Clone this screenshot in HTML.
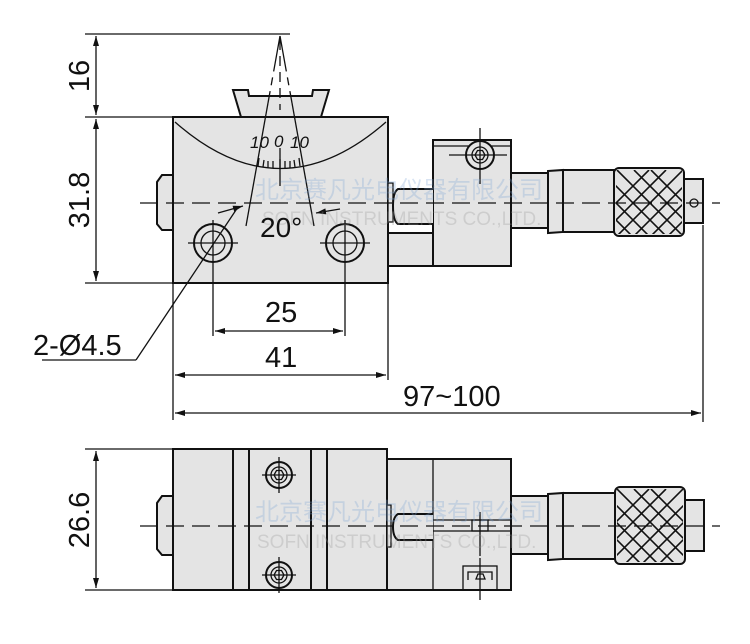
<!DOCTYPE html>
<html><head><meta charset="utf-8"><style>html,body{margin:0;padding:0;background:#fff}svg{display:block}</style></head>
<body>
<svg width="750" height="644" viewBox="0 0 750 644" xmlns="http://www.w3.org/2000/svg" font-family="'Liberation Sans', sans-serif">
<defs>
<marker id="a" viewBox="0 0 10 6" refX="10" refY="3" markerWidth="14" markerHeight="6" markerUnits="userSpaceOnUse" orient="auto-start-reverse"><path d="M0,0 L10,3 L0,6 z" fill="#111"/></marker>
</defs>
<g stroke="#111" stroke-width="1.3" fill="none">
<line x1="85" y1="34" x2="290" y2="34"/>
<line x1="85" y1="117" x2="173" y2="117"/>
<line x1="85" y1="283" x2="173" y2="283"/>
<line x1="96" y1="36" x2="96" y2="115" marker-start="url(#a)" marker-end="url(#a)"/>
<line x1="96" y1="119" x2="96" y2="281" marker-start="url(#a)" marker-end="url(#a)"/>
<path d="M173,175 L162,175 L157,182 L157,224 L162,230 L173,230" fill="#e4e4e4" stroke-width="2"/>
<path d="M233,90 L248,90 L249,96 L312,96 L313,90 L329,90 L321,117 L241,117 Z" fill="#e4e4e4" stroke-width="2"/>
<rect x="173" y="117" width="215" height="166" fill="#e4e4e4" stroke-width="2"/>
<path d="M175,122 Q280,215 386,122"/>
<path d="M388,233 L433,233 L433,266 L388,266 Z" fill="#e4e4e4" stroke-width="2"/>
<rect x="433" y="140" width="78" height="126" fill="#e4e4e4" stroke-width="2"/>
<line x1="433" y1="146" x2="511" y2="146"/>
<rect x="388" y="183" width="5" height="39" fill="#e4e4e4"/>
<path d="M433,189 L398,189 Q393,192 393,206 Q393,221 398,224 L433,224" fill="#e4e4e4" stroke-width="2"/>
<circle cx="480" cy="155" r="14" fill="#e4e4e4" stroke-width="2"/>
<circle cx="480" cy="155" r="8"/>
<path d="M475,155 l2.5,-4.5 h5 l2.5,4.5 l-2.5,4.5 h-5 z"/>
<line x1="480" y1="128" x2="480" y2="184"/>
<line x1="449" y1="155" x2="507" y2="155"/>
<rect x="511" y="173" width="37" height="55" fill="#e4e4e4" stroke-width="2"/>
<path d="M548,171 L563,170 L563,232 L548,233 Z" fill="#e4e4e4" stroke-width="2"/>
<rect x="563" y="170" width="51" height="62" fill="#e4e4e4" stroke-width="2"/>
<rect x="614" y="168" width="70" height="68" rx="5" fill="#e4e4e4" stroke-width="2"/>
<rect x="684" y="179" width="19" height="44" fill="#e4e4e4" stroke-width="2"/>
<circle cx="694" cy="203" r="4"/>
<clipPath id="k1"><rect x="616" y="170" width="66" height="64"/></clipPath>
<g clip-path="url(#k1)">
<path d="M600,170 l68,68 M617,170 l68,68 M634,170 l68,68 M651,170 l68,68 M583,170 l68,68 M566,170 l68,68 M700,170 l-68,68 M683,170 l-68,68 M666,170 l-68,68 M649,170 l-68,68 M717,170 l-68,68 M734,170 l-68,68" stroke-width="1.6"/>
</g>
<line x1="140" y1="203" x2="720" y2="203" stroke-dasharray="18,8"/>
<circle cx="213" cy="243" r="19" stroke-width="2"/><circle cx="213" cy="243" r="12"/>
<circle cx="345" cy="243" r="19" stroke-width="2"/><circle cx="345" cy="243" r="12"/>
<line x1="188" y1="243" x2="238" y2="243"/><line x1="320" y1="243" x2="370" y2="243"/>
<line x1="213" y1="220" x2="213" y2="336"/><line x1="345" y1="220" x2="345" y2="336"/>
<line x1="280" y1="36" x2="268" y2="103" stroke-dasharray="36,6,8,6"/>
<line x1="280" y1="36" x2="292" y2="103" stroke-dasharray="36,6,8,6"/>
<line x1="268" y1="103" x2="246" y2="226"/>
<line x1="292" y1="103" x2="314" y2="226"/>
<line x1="280" y1="40" x2="280" y2="110" stroke-dasharray="10,6"/>
<line x1="280" y1="148" x2="280" y2="186"/>
<path d="M258,166 l1,-8 M263,167 l1,-7 M268,168 l0,-7 M273,168 l0,-7 M280,169 l0,-10 M285,168 l0,-7 M290,168 l0,-7 M295,167 l-1,-7 M300,166 l-1,-8"/>
<line x1="218" y1="213" x2="243" y2="206" marker-end="url(#a)"/>
<line x1="340" y1="209" x2="316" y2="213" marker-end="url(#a)"/>
<line x1="238" y1="207" x2="136" y2="360"/>
<line x1="42" y1="360" x2="136" y2="360"/>
<line x1="215" y1="331" x2="343" y2="331" marker-start="url(#a)" marker-end="url(#a)"/>
<line x1="173" y1="283" x2="173" y2="420"/>
<line x1="388" y1="283" x2="388" y2="380"/>
<line x1="175" y1="375" x2="386" y2="375" marker-start="url(#a)" marker-end="url(#a)"/>
<line x1="703" y1="225" x2="703" y2="422"/>
<line x1="175" y1="413" x2="701" y2="413" marker-start="url(#a)" marker-end="url(#a)"/>

<line x1="85" y1="449" x2="173" y2="449"/>
<line x1="85" y1="590" x2="173" y2="590"/>
<line x1="96" y1="451" x2="96" y2="588" marker-start="url(#a)" marker-end="url(#a)"/>
<path d="M173,496 L162,496 L157,503 L157,549 L162,555 L173,555" fill="#e4e4e4" stroke-width="2"/>
<rect x="173" y="449" width="214" height="141" fill="#e4e4e4" stroke-width="2"/>
<path d="M233,449 V590 M249,449 V590 M311,449 V590 M327,449 V590" stroke-width="2"/>
<rect x="387" y="459" width="124" height="131" fill="#e4e4e4" stroke-width="2"/>
<line x1="433" y1="459" x2="433" y2="590"/>
<rect x="387" y="505" width="4" height="42" fill="#e4e4e4"/>
<path d="M433,514 L398,514 Q393,517 393,527 Q393,537 398,540 L433,540" fill="#e4e4e4" stroke-width="2"/>
<path d="M433,520 H511 M433,531 H511"/>
<rect x="472" y="520" width="16" height="11"/>
<line x1="480" y1="512" x2="480" y2="556"/>
<rect x="463" y="566" width="34" height="24"/>
<path d="M468,580 V572 H492 V580 M476,579 l2,-5 h5 l2,5 z"/>
<line x1="480" y1="558" x2="480" y2="600"/>
<circle cx="279" cy="475" r="13" stroke-width="2"/><circle cx="279" cy="475" r="8"/>
<path d="M274,475 l2.5,-4.5 h5 l2.5,4.5 l-2.5,4.5 h-5 z"/>
<line x1="262" y1="475" x2="296" y2="475"/><line x1="279" y1="457" x2="279" y2="493"/>
<circle cx="279" cy="575" r="13" stroke-width="2"/><circle cx="279" cy="575" r="8"/>
<path d="M274,575 l2.5,-4.5 h5 l2.5,4.5 l-2.5,4.5 h-5 z"/>
<line x1="262" y1="575" x2="296" y2="575"/><line x1="279" y1="557" x2="279" y2="593"/>
<rect x="511" y="496" width="37" height="58" fill="#e4e4e4" stroke-width="2"/>
<path d="M548,494 L563,493 L563,559 L548,560 Z" fill="#e4e4e4" stroke-width="2"/>
<rect x="563" y="493" width="52" height="66" fill="#e4e4e4" stroke-width="2"/>
<rect x="615" y="487" width="70" height="77" rx="5" fill="#e4e4e4" stroke-width="2"/>
<rect x="685" y="500" width="19" height="51" fill="#e4e4e4" stroke-width="2"/>
<clipPath id="k2"><rect x="617" y="489" width="66" height="73"/></clipPath>
<g clip-path="url(#k2)">
<path d="M566,489 l75,75 M583,489 l75,75 M600,489 l75,75 M617,489 l75,75 M634,489 l75,75 M651,489 l75,75 M734,489 l-75,75 M717,489 l-75,75 M700,489 l-75,75 M683,489 l-75,75 M666,489 l-75,75 M649,489 l-75,75" stroke-width="1.6"/>
</g>
<line x1="140" y1="526" x2="720" y2="526" stroke-dasharray="18,8"/>
</g>
<g opacity="0.3">
<text x="255" y="198" font-size="24" fill="#7fa6d6" font-family="'Noto Sans CJK SC', sans-serif">北京赛凡光电仪器有限公司</text>
<text x="262" y="225" font-size="19" fill="#999">SOFN INSTRUMENTS CO.,LTD.</text>
<text x="255" y="520" font-size="24" fill="#7fa6d6" font-family="'Noto Sans CJK SC', sans-serif">北京赛凡光电仪器有限公司</text>
<text x="257" y="548" font-size="19" fill="#999">SOFN INSTRUMENTS CO.,LTD.</text>
</g>
<g fill="#111" font-size="29">
<text x="260" y="237" font-size="28">20°</text>
<text x="265" y="322">25</text>
<text x="265" y="367">41</text>
<text x="403" y="406">97~100</text>
<text x="33" y="355">2-Ø4.5</text>
<text transform="translate(89,76) rotate(-90)" text-anchor="middle">16</text>
<text transform="translate(89,200) rotate(-90)" text-anchor="middle">31.8</text>
<text transform="translate(89,520) rotate(-90)" text-anchor="middle">26.6</text>
</g>
<g fill="#111" font-size="17" font-style="italic"><text x="250" y="148">10</text><text x="274" y="147">0</text><text x="290" y="148">10</text></g>
</svg>
</body></html>
